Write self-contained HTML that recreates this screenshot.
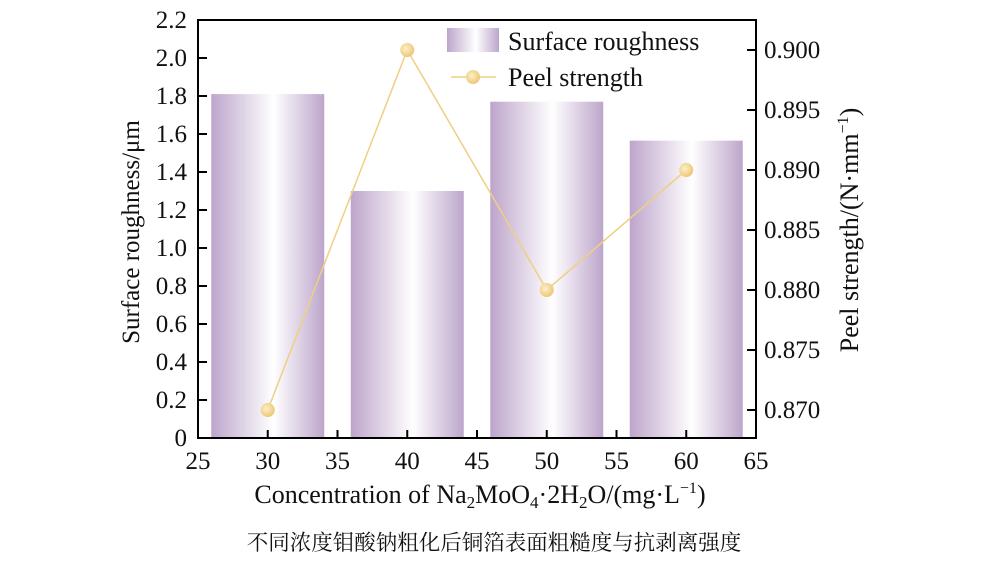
<!DOCTYPE html>
<html><head><meta charset="utf-8"><style>
body{margin:0;background:#fff;}
svg text{font-family:"Liberation Serif","Noto Serif CJK SC",serif;fill:#111;}
</style></head><body>
<svg width="982" height="558">
<defs>
<linearGradient id="bg" x1="0" x2="1" y1="0" y2="0">
<stop offset="0" stop-color="#bda5cb"/><stop offset="0.55" stop-color="#ffffff"/><stop offset="1" stop-color="#bda5cb"/>
</linearGradient>
<radialGradient id="dot" cx="0.4" cy="0.4" r="0.6">
<stop offset="0" stop-color="#fdf0c8"/><stop offset="1" stop-color="#ecc878"/>
</radialGradient>
</defs>
<g id="bars"></g>
<g id="line"></g>
<g id="axes"></g>
<text x="480" y="503" font-size="26" text-anchor="middle">Concentration of Na<tspan font-size="17" dy="5">2</tspan><tspan dy="-5">MoO</tspan><tspan font-size="17" dy="5">4</tspan><tspan dy="-5">·2H</tspan><tspan font-size="17" dy="5">2</tspan><tspan dy="-5">O/(mg·L</tspan><tspan font-size="16" dy="-10">−1</tspan><tspan dy="10">)</tspan></text>
<text transform="translate(139,232) rotate(-90)" font-size="25" text-anchor="middle">Surface roughness/μm</text>
<text transform="translate(858,230) rotate(-90)" font-size="26" text-anchor="middle">Peel strength/(N·mm<tspan font-size="16" dy="-10">−1</tspan><tspan dy="10">)</tspan></text>
<text x="494" y="550" font-size="21.5" text-anchor="middle">不同浓度钼酸钠粗化后铜箔表面粗糙度与抗剥离强度</text>
<rect x="447" y="28" width="52" height="24" fill="url(#bg)"/>
<text x="508" y="50" font-size="26">Surface roughness</text>
<line x1="451" y1="77" x2="496" y2="77" stroke="#efcf83" stroke-width="1.5"/>
<circle cx="473" cy="77" r="7" fill="url(#dot)"/>
<text x="508" y="86" font-size="26">Peel strength</text>
</svg>
<script>
const categories=[30,40,50,60];
const roughness=[1.81,1.30,1.77,1.565];
const peel=[0.870,0.900,0.880,0.890];
const xTicks=[25,30,35,40,45,50,55,60,65];
const yLeftTicks=[0,0.2,0.4,0.6,0.8,1.0,1.2,1.4,1.6,1.8,2.0,2.2];
const yRightTicks=[0.870,0.875,0.880,0.885,0.890,0.895,0.900];
const NS="http://www.w3.org/2000/svg";
const L=198,R=756,T=20,B=438;
const x=v=>L+(v-25)/40*(R-L);
const yl=v=>B-v/2.2*(B-T);
const yr=v=>410-(v-0.870)/0.030*360;
function mk(tag,attrs,parent){const e=document.createElementNS(NS,tag);for(const k in attrs)e.setAttribute(k,attrs[k]);document.getElementById(parent).appendChild(e);return e;}
categories.forEach((c,i)=>{
 const w=x(c+4.05)-x(c-4.05);
 const r=mk('rect',{x:x(c-4.05),y:yl(roughness[i]),width:w,height:B-yl(roughness[i]),fill:'url(#bg)'},'bars');
 
 
});
const pl=mk('polyline',{points:categories.map((c,i)=>x(c)+','+yr(peel[i])).join(' '),fill:'none',stroke:'#efcf83','stroke-width':1.5},'line');


categories.forEach((c,i)=>{
 const p=mk('circle',{cx:x(c),cy:yr(peel[i]),r:7,fill:'url(#dot)'},'line');
 
 
});
const fr=mk('rect',{x:L,y:T,width:R-L,height:B-T,fill:'none',stroke:'#000','stroke-width':2},'axes');


xTicks.forEach(t=>{
 mk('line',{x1:x(t),x2:x(t),y1:B,y2:B-8,stroke:'#000','stroke-width':2},'axes');
 const tx=mk('text',{x:x(t),y:B+31,'font-size':25,'text-anchor':'middle'},'axes');tx.textContent=t;
 
 
});
yLeftTicks.forEach(t=>{
 mk('line',{x1:L,x2:L+9,y1:yl(t),y2:yl(t),stroke:'#000','stroke-width':2},'axes');
 const tx=mk('text',{x:L-11,y:yl(t)+8,'font-size':25,'text-anchor':'end'},'axes');tx.textContent=t===0?'0':t.toFixed(1);
 
 
});
yRightTicks.forEach(t=>{
 mk('line',{x1:R,x2:R-9,y1:yr(t),y2:yr(t),stroke:'#000','stroke-width':2},'axes');
 const tx=mk('text',{x:R+8,y:yr(t)+8,'font-size':25,'text-anchor':'start'},'axes');tx.textContent=t.toFixed(3);
 
 
});
</script>
</body></html>
